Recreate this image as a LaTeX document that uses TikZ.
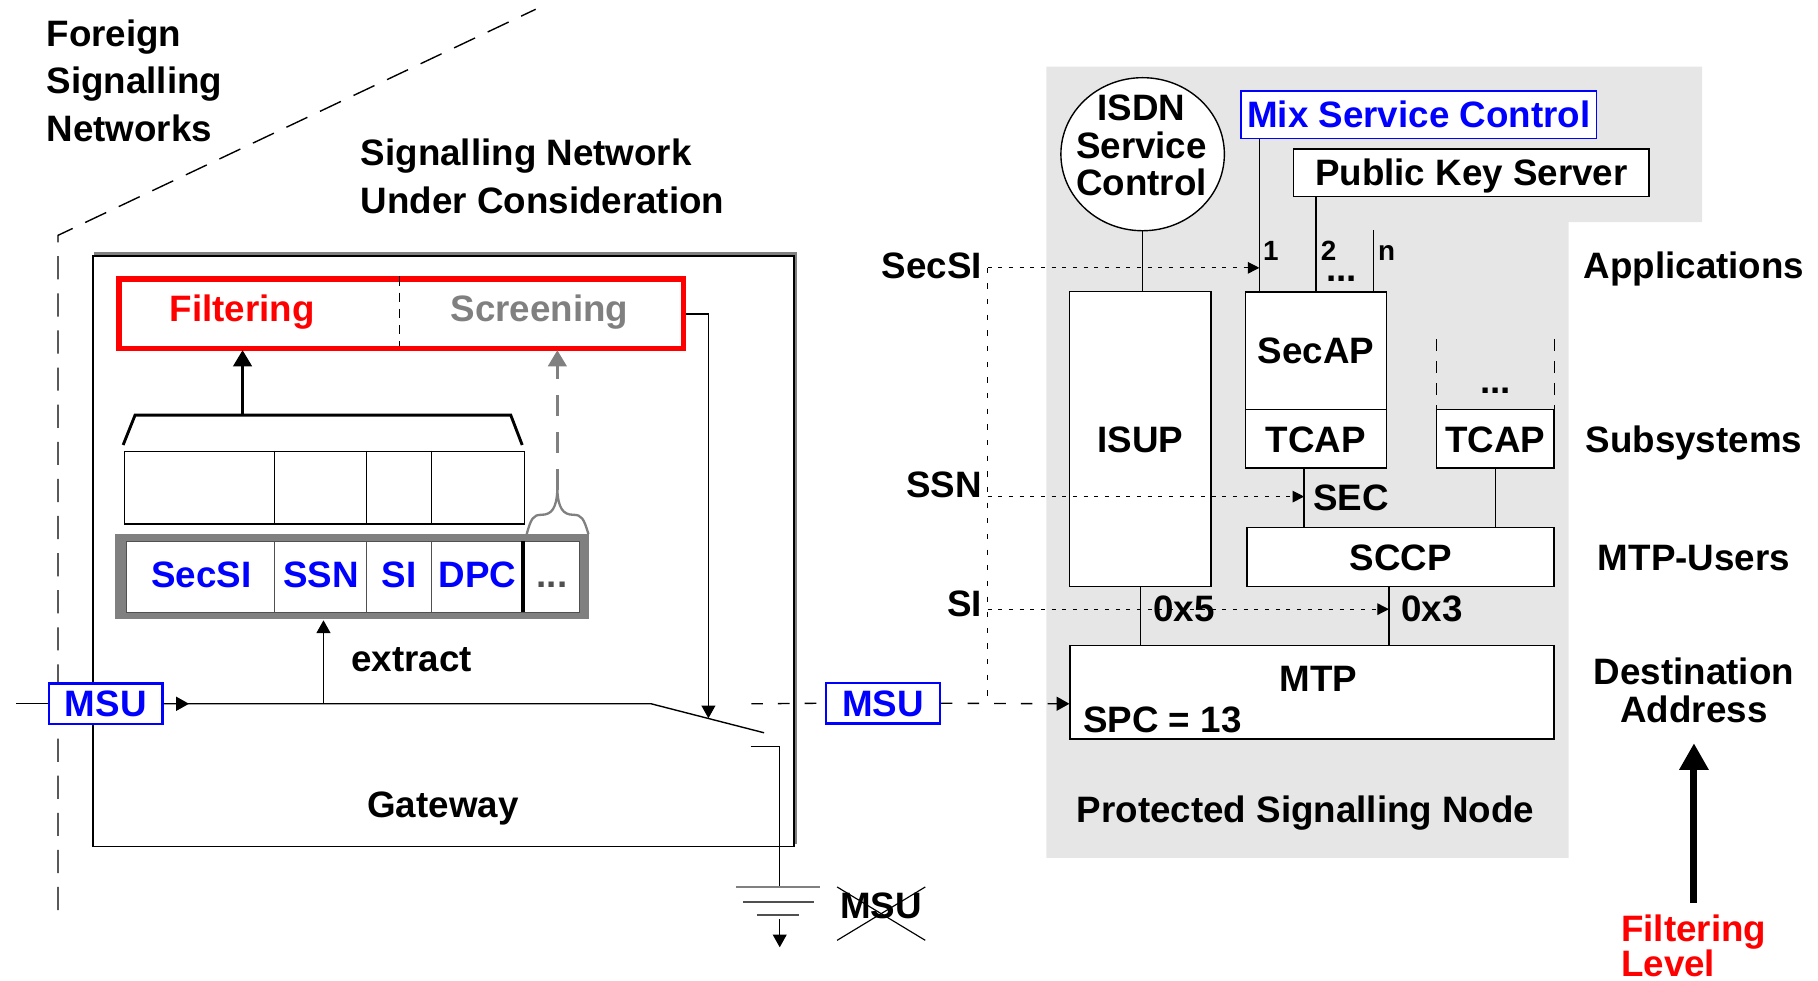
\documentclass[tikz,border=0pt]{standalone}
\usepackage{fontspec}
\setmainfont{Liberation Sans}
\usetikzlibrary{arrows.meta,shapes.geometric}
\definecolor{nodebg}{RGB}{230,230,230}
\definecolor{midgray}{RGB}{128,128,128}
\definecolor{framegray}{RGB}{80,80,80}
\tikzset{
  lbl/.style={font=\bfseries\fontsize{31.7}{40}\selectfont, inner sep=0pt, text height=22.7pt, text depth=0pt},
  smalltxt/.style={font=\bfseries\fontsize{24}{26}\selectfont, inner sep=0pt, text height=17pt, text depth=0pt},
  ln/.style={line width=1.2pt},
  plainbox/.style={draw, line width=1.2pt, fill=white, lbl},
  msubox/.style={draw=blue, line width=2pt, fill=white, text=blue, minimum width=98pt, minimum height=35pt, lbl},
  arrowtip/.style={-{Triangle[length=11pt,width=12pt]}},
  dottip/.style={-{Triangle[length=10pt,width=10pt]}},
  dotln/.style={line width=1pt, dash pattern=on 3.5pt off 5.7pt},
  vdotln/.style={line width=1pt, dash pattern=on 4.5pt off 9pt},
  msudash/.style={line width=1.2pt, dash pattern=on 10pt off 13pt},
  borderdash/.style={line width=1.2pt, dash pattern=on 20pt off 12pt},
  sidedash/.style={line width=1.2pt, dash pattern=on 10pt off 9pt},
}
\begin{document}
\begin{tikzpicture}[x=1pt,y=-1pt]
\useasboundingbox (0,0) rectangle (1568,846);

% ---------- foreign networks boundary ----------
\draw[borderdash] (50,785) -- (50,203) -- (462,8);
\node[font=\bfseries\fontsize{31.7}{41}\selectfont, inner sep=0pt, align=left, anchor=north west]
  (foreign) at (40,16.6) {Foreign\\Signalling\\Networks};
\node[font=\bfseries\fontsize{31.7}{41}\selectfont, inner sep=0pt, align=left, anchor=north west]
  (sncons) at (311,119.6) {Signalling Network\\Under Consideration};

% ---------- gateway ----------
\draw[midgray, line width=2.5pt] (81,219) -- (686.3,219) -- (686.3,728);
\node[draw, ln, minimum width=604.7pt, minimum height=509.2pt, anchor=north west] (gw) at (79.6,220.2) {};
\node[lbl] (gwtxt) at (382,694) {Gateway};

% filtering / screening unit
\node[draw=red, line width=4.5pt, minimum width=486.6pt, minimum height=60.2pt, anchor=north west] (filt) at (100.4,238.4) {};
\draw[line width=1pt, dash pattern=on 8pt off 6pt] (344.3,238.4) -- (344.3,298.6);
\node[lbl, text=red] (ftxt) at (209,266) {Filtering};
\node[lbl, text=midgray] (stxt) at (465.3,266) {Screening};

% header fields selected for filtering
\node[draw, ln, minimum width=344.6pt, minimum height=62.7pt, anchor=north west] (hdr) at (107,388.7) {};
\foreach \xx in {236.8,316.3,372.3} \draw[ln] (\xx,388.7) -- (\xx,451.4);
\draw[line width=2.5pt] (106.2,383.8) -- (116.5,358) -- (440.5,358) -- (450.4,383.8);
\coordinate (brk) at (209.2,358);
\draw[line width=2.5pt, -{Triangle[length=14pt,width=16pt]}] (brk) -- (209.2,302);

% extracted message fields
\fill[midgray] (99.5,460.6) rectangle (508.3,534.2);
\node[draw=framegray, fill=white, line width=0.8pt, minimum width=390.8pt, minimum height=61pt, anchor=north west] (fields) at (108.7,466.5) {};
\foreach \xx in {237,316.3,372.3} \draw[framegray, line width=0.8pt] (\xx,466.5) -- (\xx,527.5);
\draw[line width=3.5pt] (451,466.5) -- (451,527.5);
\node[lbl, text=blue] (fsecsi) at (173.5,495) {SecSI};
\node[lbl, text=blue] (fssn) at (277,495) {SSN};
\node[lbl, text=blue] (fsi) at (344.3,495) {SI};
\node[lbl, text=blue] (fdpc) at (411.7,495) {DPC};
\node[lbl, text=framegray] (fdots) at (476,495) {...};

% brace over the remaining fields, to screening
\draw[midgray, line width=2pt] (454.3,460.6) .. controls (458,447) and (460,444) .. (467,444)
  .. controls (476,444) and (480,438) .. (480.7,422.6)
  .. controls (481.4,438) and (485.5,444) .. (494.5,444)
  .. controls (501.5,444) and (503.5,447) .. (507.5,460.6);
\coordinate (brc) at (480.7,422.6);
\draw[midgray, line width=2.5pt, dash pattern=on 18pt off 14pt, -{Triangle[length=14pt,width=16pt]}] (brc) -- (480.7,302);

% message path through the gateway
\node[msubox] (msu1) at (91.2,607) {MSU};
\coordinate (in0) at (13.8,607);
\coordinate (sw0) at (561.6,607);
\coordinate (sw1) at (659,632);
\coordinate (hd) at (163,607);
\draw[ln] (in0) -- (msu1.west);
\draw[ln] (msu1.east) -- (sw0) -- (sw1);
\draw[ln, arrowtip] (msu1.east) -- (hd);
\coordinate (ex) at (279,607);
\draw[ln, arrowtip] (ex) -- (279,535);
\node[lbl] (extxt) at (355,568) {extract};

% control line from filtering to the switch
\coordinate (swc) at (611,619.5);
\draw[ln, arrowtip] (filt.east) -| (swc);

% discard branch to ground
\coordinate (dc0) at (647.5,644);
\coordinate (gnd) at (672.5,765);
\draw[ln] (dc0) -- (672.5,644) -- (gnd);
\draw[midgray, line width=2.5pt] (634.5,765) -- (707.6,765);
\draw[framegray, line width=2pt] (641,777.7) -- (702,777.7);
\draw[framegray, line width=2pt] (652.7,789) -- (689.5,789);
\coordinate (gnd2) at (672.5,793);
\draw[ln, arrowtip] (gnd2) -- (672.5,817);
\node[lbl] (msux) at (760,781) {MSU};
\draw[line width=1pt] (722,765) -- (798,811);
\draw[line width=1pt] (722,811) -- (798,765);

% ---------- protected signalling node ----------
\fill[nodebg] (902.5,57.5) -- (1468,57.5) -- (1468,191.5) -- (1353,191.5) -- (1353,740) -- (902.5,740) -- cycle;

\node[draw, ellipse, line width=1.2pt, fill=white, minimum width=141pt, minimum height=132pt, inner sep=0pt] (isdn) at (985.5,133) {};
\node[font=\bfseries\fontsize{31.7}{32.5}\selectfont, inner sep=0pt, align=center, anchor=north] (isdntxt) at (984.5,81.6) {ISDN\\Service\\Control};

\node[draw=blue, line width=1.5pt, fill=white, text=blue, lbl, minimum width=306.6pt, minimum height=41pt] (mix) at (1223.7,99) {Mix Service Control};
\node[plainbox, minimum width=306.6pt, minimum height=41pt] (pks) at (1269,149) {Public Key Server};

\node[plainbox, minimum width=122pt, minimum height=254.4pt] (isup) at (983.5,378.8) {ISUP};
\node[plainbox, minimum width=122pt, minimum height=101.5pt] (secap) at (1135,302.5) {SecAP};
\node[plainbox, minimum width=122pt, minimum height=50.4pt] (tcap1) at (1135,378.5) {TCAP};
\node[plainbox, minimum width=101.5pt, minimum height=50.4pt] (tcap2) at (1289.7,378.5) {TCAP};
\node[plainbox, minimum width=264.9pt, minimum height=51pt] (sccp) at (1208,480.5) {SCCP};
\node[plainbox, minimum width=417.5pt, minimum height=80.5pt] (mtp) at (1131.7,597.2) {};
\node[lbl] (mtptxt) at (1137,585) {MTP};
\node[lbl, anchor=west] (spc) at (934,620) {SPC = 13};

% further applications (open box)
\draw[sidedash] (1239,292.6) -- (1239,353.3);
\draw[sidedash] (1340.5,292.6) -- (1340.5,353.3);
\node[lbl] (appdots) at (1289.7,328) {...};

% application links
\coordinate (c1) at (1086.2,0);
\coordinate (c2) at (1134.9,0);
\coordinate (cn) at (1184.7,198.4);
\draw[ln] (isdn.south) -- (isup.north -| isdn.south);
\draw[ln] (mix.south -| c1) -- (secap.north -| c1);
\draw[ln] (pks.south -| c2) -- (secap.north -| c2);
\draw[ln] (cn) -- (secap.north -| cn);
\node[smalltxt] (l1) at (1096,216) {1};
\node[smalltxt] (l2) at (1146,216) {2};
\node[smalltxt] (ln) at (1196,216) {n};
\node[font=\bfseries\fontsize{31.7}{40}\selectfont, inner sep=0pt, text height=5pt, text depth=0pt] (ldots) at (1157,240.5) {...};

% layer links
\coordinate (csec) at (1124.8,0);
\coordinate (csi) at (1197.9,0);
\draw[ln] (tcap1.south -| csec) -- (sccp.north -| csec);
\draw[ln] (tcap2.south) -- (sccp.north -| tcap2.south);
\draw[ln] (isup.south) -- (mtp.north -| isup.south);
\draw[ln] (sccp.south -| csi) -- (mtp.north -| csi);
\node[lbl, anchor=west] (sectxt) at (1132.3,429) {SEC};
\node[lbl, anchor=west] (x5) at (994.5,525) {0x5};
\node[lbl, anchor=west] (x3) at (1208.4,525) {0x3};

% routing fields
\node[lbl, anchor=east] (secsi) at (847,228.5) {SecSI};
\node[lbl, anchor=east] (ssn) at (847,418) {SSN};
\node[lbl, anchor=east] (si) at (847,520.5) {SI};
\coordinate (vj1) at (851.8,231);
\coordinate (vj2) at (851.8,428.3);
\coordinate (vj3) at (851.8,525.4);
\coordinate (vj4) at (851.8,607);
\draw[vdotln] (vj1) -- (vj4);
\draw[dotln, dottip] (vj1) -- (vj1 -| c1);
\draw[dotln, dottip] (vj2) -- (vj2 -| csec);
\draw[dotln, dottip] (vj3) -- (vj3 -| csi);

% message delivered to the node
\node[msubox] (msu2) at (761.5,606.5) {MSU};
\coordinate (gwout) at (648,607);
\draw[msudash] (gwout) -- (msu2.west);
\draw[msudash, arrowtip] (msu2.east) -- (mtp.west |- vj4);

\node[lbl] (psn) at (1126,698) {Protected Signalling Node};

% ---------- filtering levels ----------
\node[lbl] (apps) at (1461,229) {Applications};
\node[lbl] (subs) at (1461,379) {Subsystems};
\node[lbl] (mtpu) at (1461,481) {MTP-Users};
\node[font=\bfseries\fontsize{31.7}{33}\selectfont, inner sep=0pt, align=center, anchor=north] (dest) at (1461,567) {Destination\\Address};
\coordinate (lvl0) at (1461,779);
\coordinate (lvl1) at (1461,641);
\draw[line width=6pt, -{Triangle[length=23pt,width=24pt]}] (lvl0) -- (lvl1);
\node[font=\bfseries\fontsize{31.7}{30}\selectfont, text=red, inner sep=0pt, align=left, anchor=north west] (flevel) at (1398,789) {Filtering\\Level};
\end{tikzpicture}
\end{document}
